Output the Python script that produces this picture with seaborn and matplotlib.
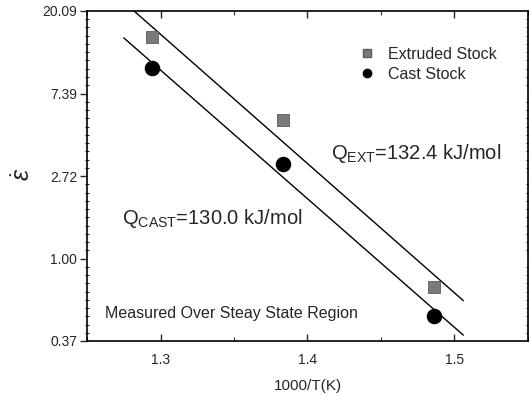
import numpy as np
import pandas as pd
import matplotlib
matplotlib.use("Agg")
import matplotlib.pyplot as plt
import seaborn as sns
from matplotlib.ticker import FixedLocator, FixedFormatter
from matplotlib.lines import Line2D

# ---- data ----
inv_T = [1.294, 1.383, 1.486]
ext_rate = [14.7, 5.36, 0.71]
cast_rate = [10.1, 3.14, 0.50]

ext_line_x = [1.282, 1.506]
ext_line_y = [20.09, 0.60]
cast_line_x = [1.275, 1.506]
cast_line_y = [14.5, 0.395]

y_ticks = [0.37, 1.00, 2.72, 7.39, 20.09]
y_tick_labels = ["0.37", "1.00", "2.72", "7.39", "20.09"]
x_ticks = [1.3, 1.4, 1.5]
x_tick_labels = ["1.3", "1.4", "1.5"]

sns.set_theme(style="white")
plt.rcParams['font.family'] = ['Liberation Sans', 'DejaVu Sans']
plt.rcParams['mathtext.fontset'] = 'custom'
plt.rcParams['mathtext.rm'] = 'Liberation Sans'
plt.rcParams['mathtext.it'] = 'Liberation Sans:italic'

fig = plt.figure(figsize=(5.29, 3.96), dpi=100)
ax = fig.add_axes([87/529, 1-341/396, (528-87)/529, (341-11)/396])

pts = pd.DataFrame({"x": inv_T * 2,
                    "y": ext_rate + cast_rate,
                    "kind": ["Extruded Stock"] * 3 + ["Cast Stock"] * 3})

sns.lineplot(x=ext_line_x, y=ext_line_y, ax=ax, color="black", lw=1.0)
sns.lineplot(x=cast_line_x, y=cast_line_y, ax=ax, color="black", lw=1.0)

ext = pts[pts.kind == "Extruded Stock"]
cast = pts[pts.kind == "Cast Stock"]
sns.scatterplot(data=ext, x="x", y="y", ax=ax, marker="s", s=80,
                color="#7a7a7a", edgecolor="#5a5a5a", linewidth=0.6, zorder=3)
sns.scatterplot(data=cast, x="x", y="y", ax=ax, marker="o", s=125,
                color="black", edgecolor="black", linewidth=0, zorder=3)

ax.set_yscale("log", base=np.e)
ax.set_ylim(np.exp(-1), np.exp(3))
ax.set_xlim(1.25, 1.55)

ax.yaxis.set_major_locator(FixedLocator([np.exp(v) for v in [-1, 0, 1, 2, 3]]))
ax.yaxis.set_major_formatter(FixedFormatter(y_tick_labels))
minor_y = [np.exp(-1 + 0.1 * i) for i in range(41) if i % 10 != 0]
ax.yaxis.set_minor_locator(FixedLocator(minor_y))
ax.yaxis.set_minor_formatter(FixedFormatter([""] * len(minor_y)))

ax.xaxis.set_major_locator(FixedLocator(x_ticks))
ax.xaxis.set_major_formatter(FixedFormatter(x_tick_labels))
ax.xaxis.set_minor_locator(FixedLocator([1.25, 1.35, 1.45, 1.55]))

ax.tick_params(axis="y", which="major", direction="out", length=5, width=1,
               labelsize=10, left=True, right=True, pad=2)
ax.tick_params(axis="y", which="minor", direction="inout", length=3, width=0.8,
               left=True, right=True)
ax.tick_params(axis="x", which="major", direction="in", length=5, width=1,
               labelsize=10, bottom=True, top=True, pad=9)
ax.tick_params(axis="x", which="minor", direction="in", length=3, width=0.8,
               bottom=True, top=True)
for sp in ax.spines.values():
    sp.set_visible(True)
    sp.set_color("black")
    sp.set_linewidth(1.2)

ax.set_xlabel("1000/T(K)", fontsize=11, labelpad=8)
ax.set_ylabel("")
fig.text(23/529, 1-174/396, r"$\dot{\varepsilon}$", fontsize=18,
         rotation=90, ha="center", va="center")

handles = [Line2D([], [], marker="s", ls="", color="#7a7a7a", markeredgecolor="#5a5a5a", markersize=6),
           Line2D([], [], marker="o", ls="", color="black", markersize=6)]
ax.legend(handles, ["Extruded Stock", "Cast Stock"], loc="upper left",
          bbox_to_anchor=(0.585, 0.935), frameon=False, fontsize=11.5,
          handletextpad=0.8, labelspacing=0.3, handlelength=1.0)

ax.text(1.4158, 3.59, r"Q$_{\rm EXT}$=132.4 kJ/mol", fontsize=14.5, va="center")
ax.text(1.274, 1.62, r"Q$_{\rm CAST}$=130.0 kJ/mol", fontsize=14.5, va="center")
ax.text(1.262, 0.515, "Measured Over Steay State Region", fontsize=11.5, va="center")

fig.savefig("out.png", dpi=100)
